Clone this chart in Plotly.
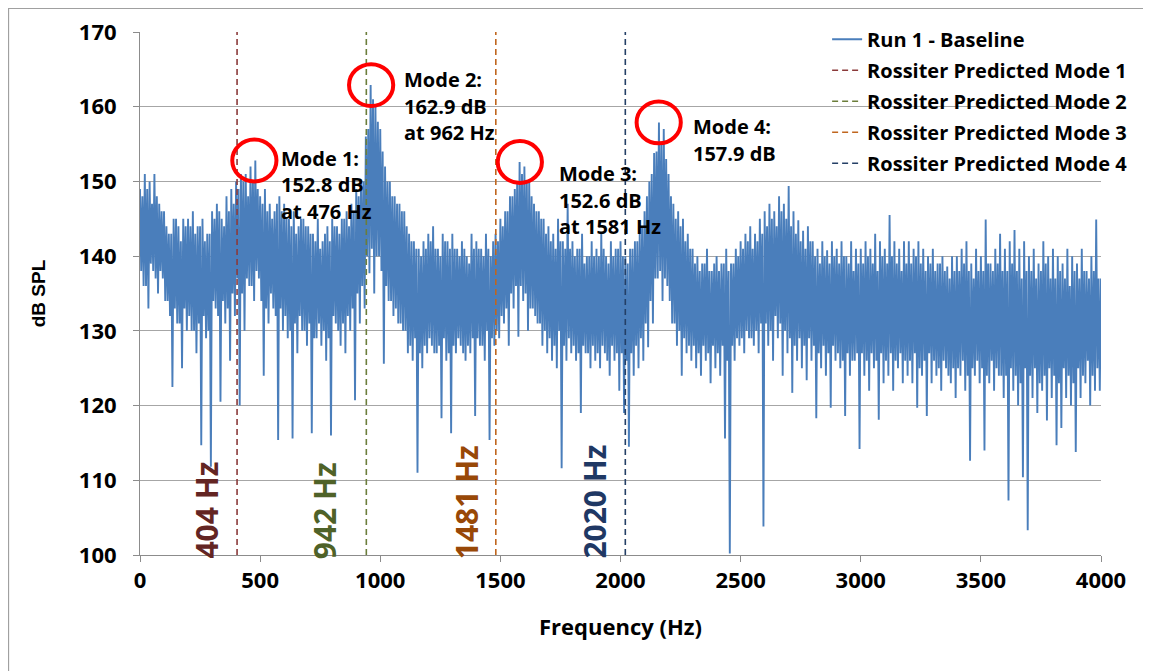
import plotly.graph_objects as go

# ---------------- data ----------------
# Alternating local peak / dip readings of the spectrum, every 10 Hz from 0 Hz
envelope_db = [
    149, 136, 151, 133, 150, 138, 151, 135, 147, 137,
    146, 134, 143, 122.5, 145, 131, 144, 125, 145, 130,
    145, 130, 146, 127, 144, 114.7, 145, 129, 143, 111.8,
    146, 133, 147, 120.5, 145, 131, 148, 126, 149, 132,
    150, 120, 151, 130, 151, 136, 152, 134, 152.8, 137,
    148, 124, 149, 131, 147, 133, 146, 115.4, 148, 130,
    147, 129, 145, 115.6, 146, 127, 144, 130, 145, 128,
    144, 116.3, 143, 129, 145, 128, 142, 126, 144, 116,
    145, 131, 144, 128, 145, 127, 146, 130, 147, 120.7,
    149, 131, 150, 133, 156, 137.7, 162.9, 135, 160, 140,
    157, 125.6, 152, 134, 150, 132, 148, 131, 147, 130,
    146, 127, 143, 126, 142, 111, 141, 125, 142, 127,
    143, 128, 144, 127, 141, 118.3, 143, 126, 142, 116.3,
    143, 127, 141, 128, 142, 126, 140, 127, 143, 118.6,
    142, 128, 141, 126, 143, 115.4, 140, 128, 143, 129,
    145, 131, 146, 128, 148, 133, 149, 129.2, 152.6, 134,
    152, 130, 150, 133, 147, 131, 146, 128, 145, 127,
    144, 126, 143, 125, 145, 111.6, 142, 126, 147, 127,
    142, 126, 141, 119, 143, 127, 140, 125, 142, 126,
    141, 125, 143, 127, 140, 124, 142, 126, 141, 122,
    142, 119, 140, 114.5, 141, 124, 142, 125, 143, 126,
    146, 127.8, 150, 131, 153.8, 137, 157.9, 134, 157, 136,
    151, 131, 147, 128, 146, 124, 145, 127, 143, 126,
    141, 125, 140, 124, 139, 126, 141, 123, 138, 125,
    140, 124, 139, 115.6, 141, 100.2, 139, 126, 141, 128,
    142, 127, 143, 129, 144, 128, 143, 127, 145, 103.8,
    146, 128, 147, 126, 146, 129, 148, 124, 147, 127,
    149.4, 121.7, 146, 126, 144.8, 125, 143.4, 123.4, 144, 126,
    142, 118.3, 141, 125, 142, 124, 140.8, 119.7, 142, 126,
    141, 125, 142, 118.6, 140, 124, 142, 126, 141, 114.2,
    141, 124, 142, 122, 141, 125, 143, 118.1, 142, 123,
    141, 124, 145.5, 122, 142, 125, 141, 123, 142, 124,
    142, 123, 141, 119.7, 142, 124, 141, 118.6, 140, 123,
    141, 124, 139, 122, 140, 125, 138.6, 123, 140, 121,
    140, 124, 141, 122, 142, 112.6, 139, 124, 141, 123,
    140, 114, 144.9, 123, 139, 122, 141, 124, 143, 121,
    141, 107.3, 142, 122, 143.5, 120, 141, 110.4, 142, 103.3,
    140, 121, 141, 119, 139, 122, 142, 118, 140, 121,
    141, 114.7, 140, 117, 139, 121, 141, 120, 140, 113.8,
    139, 121, 141, 123, 138, 120, 140, 122, 144.9, 122,
    137,
]

# Dense-core readings (low, high pairs) between each peak and the following dip
core_db = [
    138, 148, 136, 149, 139, 147, 137, 148, 138, 146,
    134, 144, 132, 143, 133, 145, 131, 142, 133, 144,
    132, 144, 130, 143, 131, 144, 132, 142, 130, 143,
    134, 145, 132, 146, 134, 144, 133, 146, 135, 147,
    137, 149, 135, 150, 137, 148, 136, 150, 138, 149,
    134, 147, 133, 146, 135, 145, 132, 147, 133, 146,
    132, 145, 130, 144, 131, 143, 132, 145, 130, 144,
    131, 143, 129, 142, 131, 141, 130, 143, 129, 142,
    132, 144, 130, 143, 131, 145, 132, 144, 133, 146,
    135, 148, 136, 150, 140, 157, 141, 161, 140, 158,
    138, 154, 136, 150, 134, 148, 133, 147, 131, 146,
    130, 144, 128, 142, 129, 141, 127, 140, 128, 141,
    129, 142, 127, 141, 128, 140, 129, 142, 127, 141,
    128, 141, 129, 140, 127, 141, 128, 139, 129, 141,
    129, 141, 128, 140, 130, 141, 129, 142, 130, 142,
    132, 144, 133, 146, 135, 148, 136, 150, 136, 151,
    135, 150, 133, 148, 132, 146, 131, 145, 130, 143,
    129, 142, 128, 141, 130, 142, 128, 141, 129, 141,
    128, 140, 127, 141, 128, 139, 127, 140, 128, 140,
    127, 140, 128, 141, 126, 139, 128, 140, 127, 141,
    127, 140, 126, 139, 127, 141, 128, 142, 129, 144,
    131, 148, 134, 151, 137, 154, 138, 155, 137, 153,
    134, 148, 131, 145, 130, 144, 129, 142, 128, 141,
    128, 139, 127, 138, 128, 139, 127, 138, 128, 139,
    127, 138, 128, 139, 126, 138, 128, 139, 129, 140,
    129, 141, 130, 142, 129, 141, 130, 142, 131, 143,
    131, 144, 130, 145, 132, 144, 131, 146, 130, 145,
    129, 144, 128, 143, 129, 142, 128, 141, 129, 142,
    128, 140, 127, 139, 128, 140, 127, 139, 128, 140,
    127, 139, 126, 140, 127, 139, 126, 138, 127, 139,
    127, 139, 126, 140, 127, 139, 126, 138, 127, 140,
    126, 139, 127, 140, 126, 139, 127, 138, 126, 139,
    126, 139, 127, 140, 125, 139, 126, 138, 127, 139,
    126, 138, 125, 139, 126, 138, 124, 137, 125, 138,
    125, 138, 126, 139, 124, 138, 125, 137, 126, 138,
    125, 138, 124, 139, 126, 138, 125, 139, 124, 138,
    124, 138, 125, 139, 124, 138, 123, 137, 125, 138,
    124, 138, 125, 137, 123, 138, 124, 139, 125, 137,
    124, 137, 123, 138, 125, 137, 124, 136, 123, 138,
    125, 137, 124, 138, 126, 137, 124, 138, 125, 137,
]

# assemble the 5 Hz series: peak, core low, core high, dip, ...
peaks = envelope_db[0::2]
dips = envelope_db[1::2]
spl_db = []
for i in range(len(dips)):
    spl_db += [peaks[i], core_db[2 * i], core_db[2 * i + 1], dips[i]]
spl_db.append(peaks[-1])
freq_hz = [5 * i for i in range(len(spl_db))]

rossiter_names = ["Rossiter Predicted Mode 1", "Rossiter Predicted Mode 2",
                  "Rossiter Predicted Mode 3", "Rossiter Predicted Mode 4"]
rossiter_hz = [404, 942, 1481, 2020]
rossiter_line_colors = ["#8B3A3A", "#6B7D3A", "#C0661E", "#243F66"]
rossiter_text_colors = ["#632523", "#4F6228", "#984807", "#1F3864"]
rossiter_labels = ["404 Hz", "942 Hz", "1481 Hz", "2020 Hz"]
rossiter_label_hz = [275, 769, 1358, 1888]

mode_hz = [476, 962, 1581, 2159]
mode_db = [152.8, 162.9, 152.6, 157.9]
mode_text = [
    ["Mode 1:", "152.8 dB", "at 476 Hz"],
    ["Mode 2:", "162.9 dB", "at 962 Hz"],
    ["Mode 3:", "152.6 dB", "at 1581 Hz"],
    ["Mode 4:", "157.9 dB"],
]
mode_text_pos = [(578, 153.1), (1090, 163.6), (1735, 151.0), (2295, 157.3)]

FONT = "Open Sans"

fig = go.Figure()
fig.add_trace(go.Scatter(
    x=freq_hz, y=spl_db, mode="lines", name="Run 1 - Baseline",
    line=dict(color="#4A7EBB", width=1.9), legendgroup="g0"))

for i, (nm, hz, col) in enumerate(zip(rossiter_names, rossiter_hz, rossiter_line_colors)):
    fig.add_trace(go.Scatter(
        x=[hz, hz], y=[100, 170], mode="lines", name=nm,
        line=dict(color=col, width=1.6, dash="6px,4px"), legendgroup=f"g{i+1}"))

# red circles around modes
for hz, db in zip(mode_hz, mode_db):
    fig.add_shape(type="circle", xref="x", yref="y",
                  x0=hz - 92, x1=hz + 92, y0=db - 2.8, y1=db + 2.8,
                  line=dict(color="#FF0000", width=4))

# mode annotations (one annotation per line to match line spacing)
for lines, (tx, ty) in zip(mode_text, mode_text_pos):
    for k, t in enumerate(lines):
        fig.add_annotation(x=tx, y=ty, xref="x", yref="y", text=t, showarrow=False,
                           xanchor="left", yanchor="middle", yshift=-26.5 * k,
                           font=dict(family=FONT, size=20, color="black", weight="bold"))

# rotated rossiter frequency labels
for lab, hz, col in zip(rossiter_labels, rossiter_label_hz, rossiter_text_colors):
    fig.add_annotation(x=hz, y=100, xref="x", yref="y", text=lab, showarrow=False,
                       textangle=-90, xanchor="center", yanchor="bottom", yshift=-6,
                       font=dict(family=FONT, size=30, color=col, weight="bold"))

# outer frame (bottom edge falls outside the figure, as in the reference)
fig.add_shape(type="rect", xref="paper", yref="paper",
              x0=-0.1368, x1=1.0479, y0=-0.3, y1=1.0449,
              line=dict(color="#A0A0A0", width=1.2), fillcolor="rgba(0,0,0,0)", layer="below")

fig.update_layout(
    width=1143, height=663,
    margin=dict(l=132, r=50, t=24, b=116, autoexpand=False),
    paper_bgcolor="white", plot_bgcolor="white",
    font=dict(family=FONT, color="black"),
    showlegend=True,
    legend=dict(x=0.715, y=1.0235, xanchor="left", yanchor="top",
                bgcolor="rgba(0,0,0,0)", traceorder="grouped", tracegroupgap=2,
                font=dict(family=FONT, size=20, color="black", weight="bold")),
    xaxis=dict(range=[0, 4000], dtick=500, tick0=0, showgrid=False, zeroline=False,
               showline=True, linecolor="#8C8C8C", linewidth=1, automargin=False,
               ticks="outside", ticklen=6, tickcolor="#8C8C8C",
               tickfont=dict(family=FONT, size=22, weight="bold"),
               title=dict(text="Frequency (Hz)", standoff=26,
                          font=dict(family=FONT, size=22, weight="bold"))),
    yaxis=dict(range=[100, 170], dtick=10, tick0=100, showgrid=True, gridcolor="#A6A6A6",
               gridwidth=1, zeroline=False, showline=True, linecolor="#8C8C8C",
               automargin=False,
               ticks="outside", ticklen=6, tickcolor="#8C8C8C", ticklabelstandoff=12,
               tickfont=dict(family=FONT, size=22, weight="bold"),
               title=dict(text="dB SPL", standoff=28,
                          font=dict(family="Liberation Sans", size=19, weight="bold"))),
)

fig.write_html("out.html")
